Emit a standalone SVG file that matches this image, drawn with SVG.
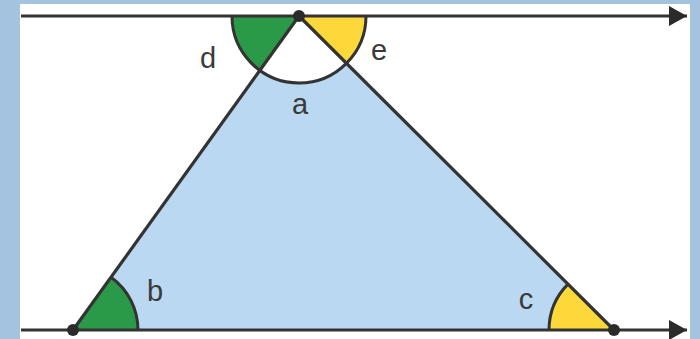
<svg xmlns="http://www.w3.org/2000/svg" width="700" height="339" viewBox="0 0 700 339">
  <style>
    .line { stroke: #333333; stroke-width: 3.2; fill: none; }
    .arc { stroke: #333333; stroke-width: 3; fill: none; }
    .green { fill: #2a9a48; }
    .yellow { fill: #fdd83a; }
    .dot { fill: #2b2b2b; }
    .lbl { font-family: "Liberation Sans", Arial, sans-serif; font-size: 29px; fill: #3a3a3a; text-anchor: middle; }
  </style>
  <defs>
    <marker id="arrow" markerUnits="userSpaceOnUse" markerWidth="20" markerHeight="22" refX="18" refY="10" orient="auto">
      <path d="M0,0 L18,10 L0,20 Z" fill="#2b2b2b"/>
    </marker>
  </defs>
  <rect x="0" y="0" width="700" height="339" fill="#a3c3de"/>
  <rect x="20" y="4" width="670" height="335" fill="#ffffff"/>

  <g id="triangle">
    <path d="M299,16 L73,330 L614,330 Z" fill="#bad8f1"/>
  </g>

  <g id="angle-top">
    <path d="M299,16 L232,16 A67,67 0 0 0 259.9,70.4 Z" class="green"/>
    <path d="M299,16 L259.9,70.4 A67,67 0 0 0 346.4,63.3 Z" fill="#ffffff"/>
    <path d="M299,16 L346.4,63.3 A67,67 0 0 0 366,16 Z" class="yellow"/>
    <path d="M232,16 A67,67 0 0 0 366,16" class="arc"/>
  </g>

  <g id="angle-b">
    <path d="M73,330 L138,330 A65,65 0 0 0 111,277.2 Z" class="green"/>
    <path d="M138,330 A65,65 0 0 0 111,277.2" class="arc"/>
  </g>

  <g id="angle-c">
    <path d="M614,330 L549,330 A65,65 0 0 1 568,284.1 Z" class="yellow"/>
    <path d="M549,330 A65,65 0 0 1 568,284.1" class="arc"/>
  </g>

  <g id="connectors">
    <line x1="299" y1="16" x2="73" y2="330" class="line"/>
    <line x1="299" y1="16" x2="614" y2="330" class="line"/>
    <line x1="21" y1="16" x2="687" y2="16" class="line" marker-end="url(#arrow)"/>
    <line x1="21" y1="330" x2="687" y2="330" class="line" marker-end="url(#arrow)"/>
  </g>

  <g id="vertices">
    <circle cx="299" cy="16" r="6" class="dot"/>
    <circle cx="73" cy="330" r="6" class="dot"/>
    <circle cx="614" cy="330" r="6" class="dot"/>
  </g>

  <g id="labels">
    <text x="208" y="68" class="lbl">d</text>
    <text x="379" y="60" class="lbl">e</text>
    <text x="300" y="114" class="lbl">a</text>
    <text x="155" y="301" class="lbl">b</text>
    <text x="526" y="309" class="lbl">c</text>
  </g>
</svg>
